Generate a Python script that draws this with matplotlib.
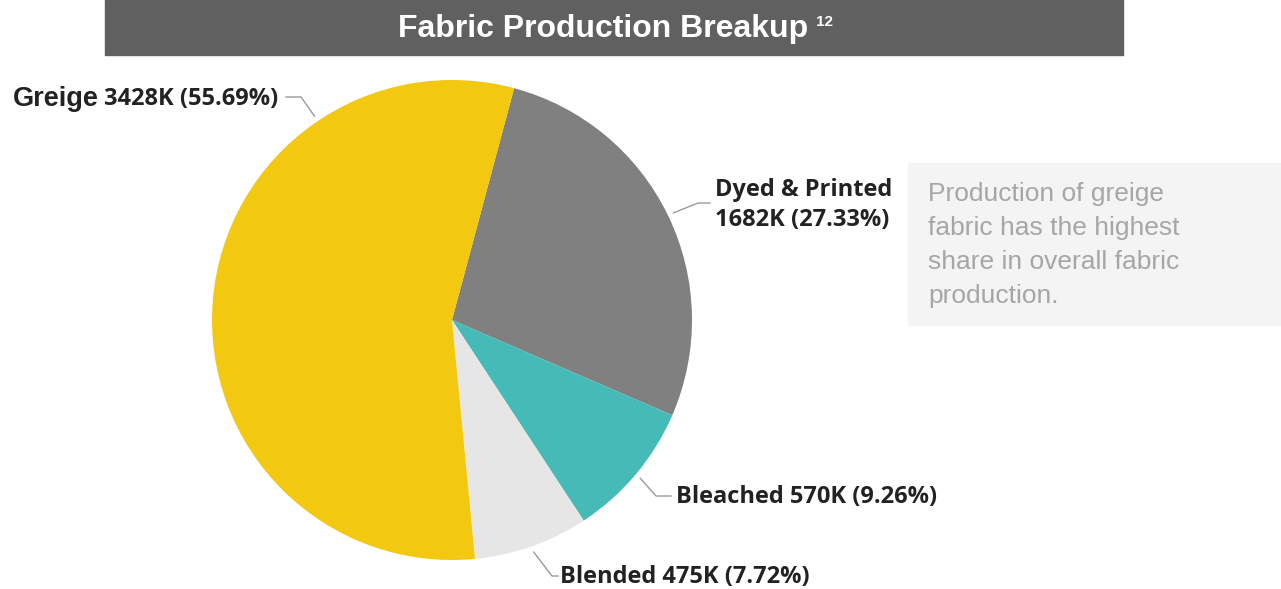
import numpy as np
import matplotlib.pyplot as plt
from matplotlib.patches import Rectangle

# fabric production, thousands of units
categories = ['Dyed & Printed', 'Bleached', 'Blended', 'Greige']
values = [1682, 570, 475, 3428]
shares = [27.33, 9.26, 7.72, 55.69]
colors = ['#808080', '#45BAB6', '#E6E6E6', '#F2C811']

note = 'Production of greige\nfabric has the highest\nshare in overall fabric\nproduction.'

W, H = 1281, 589
cx, cy, R = 452, H - 320, 240

fig = plt.figure(figsize=(W / 100, H / 100), dpi=100)
ax = fig.add_axes([0, 0, 1, 1])

wedges, _ = ax.pie(values, colors=colors, startangle=75, counterclock=False,
                   center=(cx, cy), radius=R, wedgeprops=dict(linewidth=0))
ax.set_xlim(0, W)
ax.set_ylim(0, H)
ax.set_aspect('equal')
ax.axis('off')

# title bar
ax.add_patch(Rectangle((105, H - 55), 1018, 55, color='#606060', zorder=3))
title = ax.text(603, H - 29, 'Fabric Production Breakup', color='white', fontsize=23,
                fontweight='bold', family='Liberation Sans', ha='center', va='center', zorder=4)

# note box
ax.add_patch(Rectangle((908, H - 325), 373, 162, color='#F4F4F4', zorder=1))
ax.text(928, H - 245, note, color='#A6A6A6', fontsize=19, family='Liberation Sans',
        ha='left', va='center', linespacing=1.52, zorder=2)

lead = '#9A9A9A'
lbl = dict(family='Open Sans', fontweight='bold', fontsize=17, color='#222222')


def edge_point(w, ang=None):
    if ang is None:
        ang = (w.theta1 + w.theta2) / 2
    a = np.deg2rad(ang)
    return cx + (R + 6) * np.cos(a), cy + (R + 6) * np.sin(a)


# Dyed & Printed
x0, y0 = edge_point(wedges[0])
ax.plot([x0, 698, 710], [y0, H - 203, H - 203], color=lead, lw=1)
ax.text(715, H - 190, 'Dyed & Printed', ha='left', va='center', **lbl)
ax.text(715, H - 220, f'{values[0]}K ({shares[0]:.2f}%)', ha='left', va='center', **lbl)

# Bleached
x0, y0 = edge_point(wedges[1])
ax.plot([x0, 656, 671], [y0, H - 496, H - 496], color=lead, lw=1)
ax.text(676, H - 497, f'{categories[1]} {values[1]}K ({shares[1]:.2f}%)',
        ha='left', va='center', **lbl)

# Blended
x0, y0 = edge_point(wedges[2])
ax.plot([x0, 552, 558], [y0, H - 576, H - 576], color=lead, lw=1)
ax.text(560, H - 577, f'{categories[2]} {values[2]}K ({shares[2]:.2f}%)',
        ha='left', va='center', **lbl)

# Greige
x0, y0 = edge_point(wedges[3], 124)
ax.plot([x0, 301, 286], [y0, H - 97, H - 97], color=lead, lw=1)
t = ax.text(278, H - 99, f'{values[3]}K ({shares[3]:.2f}%)', ha='right', va='center', **lbl)

fig.canvas.draw()
inv = ax.transData.inverted()
bb = t.get_window_extent().transformed(inv)
ax.text(bb.x0 - 5, H - 99, categories[3], ha='right', va='center', family='Liberation Sans',
        fontweight='bold', fontsize=19.5, color='#222222')

# footnote marker after the title
tb = title.get_window_extent().transformed(inv)
ax.text(tb.x1 + 8, H - 22, '12', color='white', fontsize=11, fontweight='bold',
        family='Liberation Sans', ha='left', va='center', zorder=4)

fig.savefig('out.png', dpi=100)
